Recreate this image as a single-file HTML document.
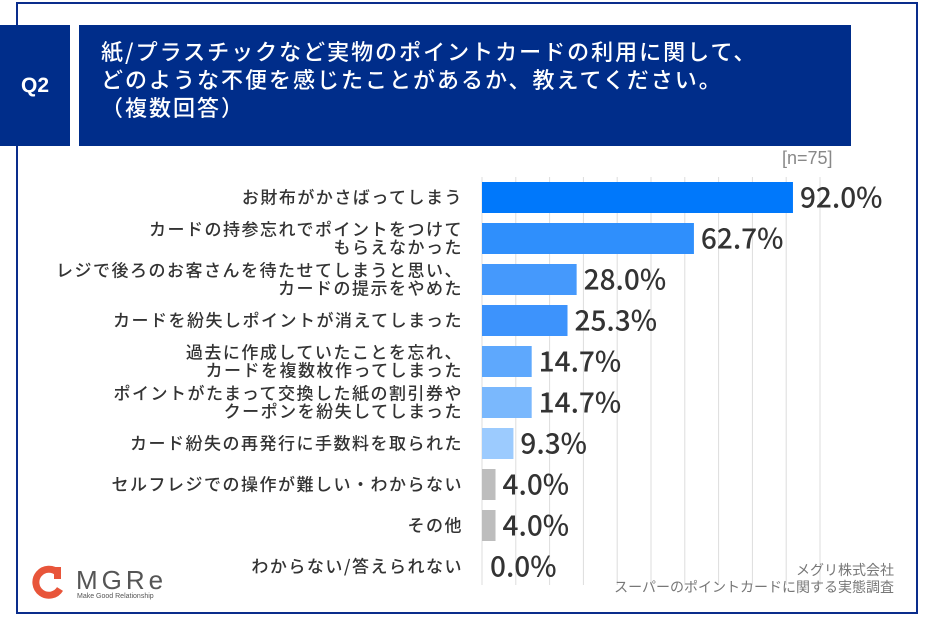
<!DOCTYPE html>
<html><head><meta charset="utf-8"><style>
body{margin:0;width:940px;height:617px;background:#fff;overflow:hidden;font-family:"Liberation Sans","Noto Sans CJK JP",sans-serif;position:relative}
.abs{position:absolute}
</style></head><body>
<div class="abs" style="left:16px;top:2px;width:902px;height:612px;border:2px solid #0a2d8c;box-sizing:border-box"></div>
<div class="abs" style="left:0;top:25px;width:70px;height:121px;background:#002d8a;color:#fff;font-size:21px;font-weight:bold;display:flex;align-items:center;justify-content:center">Q2</div>
<div class="abs" style="left:79px;top:25px;width:772px;height:121px;background:#002d8a;color:#fff;font-size:22px;font-weight:500;letter-spacing:2px;line-height:28px;padding:12px 0 0 22px;box-sizing:border-box;font-family:'Noto Sans CJK JP',sans-serif">紙/プラスチックなど実物のポイントカードの利用に関して、<br>どのような不便を感じたことがあるか、教えてください。<br>（複数回答）</div>
<div class="abs" style="left:782px;top:148px;color:#888;font-size:18px">[n=75]</div>
<svg class="abs" style="left:0;top:0" width="940" height="617" id="chart"></svg>
<div class="abs" style="left:32px;top:565px;width:150px;height:40px">
<svg width="34" height="34" style="position:absolute;left:0;top:0"><path d="M26 8 A13 13 0 1 0 28 24" fill="none" stroke="#e8553a" stroke-width="7"/><rect x="22" y="2" width="7" height="12" fill="#e8553a"/></svg>
<div style="position:absolute;left:44px;top:0;font-size:26px;letter-spacing:4px;color:#555">MGRe</div>
<div style="position:absolute;left:45px;top:28px;font-size:7px;color:#555">Make Good Relationship</div></div>
<div class="abs" style="right:46px;top:562px;text-align:right;color:#777;font-size:14px;line-height:17px">メグリ株式会社<br>スーパーのポイントカードに関する実態調査</div>
<script>
const categories=[["お財布がかさばってしまう"],["カードの持参忘れでポイントをつけて","もらえなかった"],["レジで後ろのお客さんを待たせてしまうと思い、","カードの提示をやめた"],["カードを紛失しポイントが消えてしまった"],["過去に作成していたことを忘れ、","カードを複数枚作ってしまった"],["ポイントがたまって交換した紙の割引券や","クーポンを紛失してしまった"],["カード紛失の再発行に手数料を取られた"],["セルフレジでの操作が難しい・わからない"],["その他"],["わからない/答えられない"]];
const values=[92.0,62.7,28.0,25.3,14.7,14.7,9.3,4.0,4.0,0.0];
const colors=["#0078fb","#2f8ffc","#4599fc","#3d93fc","#5ea8fd","#7ab8fd","#9ccbfe","#bdbdbd","#bdbdbd","#bdbdbd"];
const ticks=[0,10,20,30,40,50,60,70,80,90,100];
const NS="http://www.w3.org/2000/svg",svg=document.getElementById("chart");
const x0=482,pxPer=3.38,yTop=182,pitch=41,bh=31;
const xs=v=>x0+v*pxPer, ys=i=>yTop+i*pitch;
function mk(t,a){const e=document.createElementNS(NS,t);for(const k in a)e.setAttribute(k,a[k]);svg.appendChild(e);return e;}
ticks.forEach(t=>{const l=mk("line",{x1:xs(t),x2:xs(t),y1:177,y2:585,stroke:"#ddd","stroke-width":1});

});
values.forEach((v,i)=>{
const r=mk("rect",{x:x0,y:ys(i),width:v*pxPer,height:bh,fill:colors[i]});


const t=mk("text",{x:xs(v)+(v>0?7:8),y:ys(i)+bh/2+10,"font-size":28,fill:"#333","font-family":"'Noto Sans CJK JP',sans-serif","font-weight":500});t.textContent=v.toFixed(1)+"%";


const lines=categories[i];
lines.forEach((s,j)=>{const c=mk("text",{x:463,y:ys(i)+bh/2+6+(j-(lines.length-1)/2)*18,"font-size":17,"letter-spacing":1.5,fill:"#333","text-anchor":"end","font-family":"'Noto Sans CJK JP',sans-serif","font-weight":500});c.textContent=s;

});
});
</script>
</body></html>
